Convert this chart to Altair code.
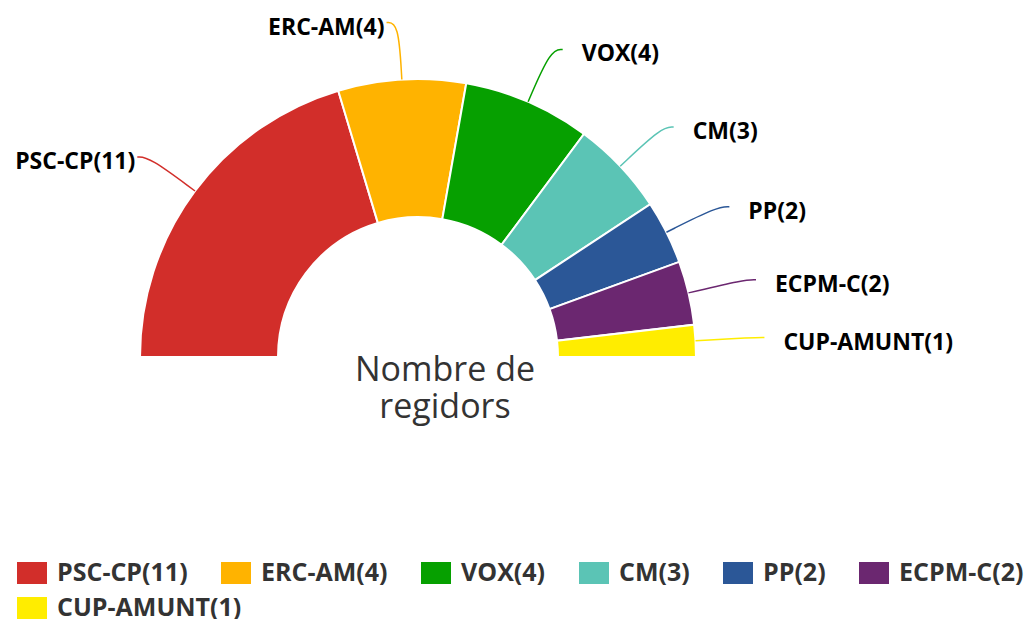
import math
import altair as alt
import pandas as pd

# ---- data ----
parties = ["PSC-CP", "ERC-AM", "VOX", "CM", "PP", "ECPM-C", "CUP-AMUNT"]
seats = [11, 4, 4, 3, 2, 2, 1]
colors = ["#d22e2a", "#ffb300", "#06a000", "#5bc4b5", "#2b5797", "#6b2770", "#ffed00"]
labels = [f"{p}({s})" for p, s in zip(parties, seats)]
center_title = ["Nombre de\nregidors"]

df = pd.DataFrame({"label": labels, "seats": seats, "idx": list(range(len(parties)))})
title_df = pd.DataFrame({"title": center_title})

# ---- layout constants ----
CX, CY = 410, 349
R_OUT, R_IN = 278, 140
R_LAB = 335
FONT = "Open Sans"
ROW1, ROW2 = labels[:6], labels[6:]

legend_style = dict(
    orient="none", direction="horizontal", title=None,
    symbolType="M-1,-0.733L1,-0.733L1,0.733L-1,0.733Z",
    symbolSize=900, symbolStrokeWidth=0, symbolOpacity=1,
    labelFont=FONT, labelFontWeight="bold", labelFontSize=25,
    labelColor="#333333", labelOffset=10, labelLimit=400,
    columnPadding=33, padding=0,
)

color_scale = alt.Scale(domain=labels, range=colors)

base = alt.Chart(df)

arcs = base.mark_arc(
    radius=R_OUT, radius2=R_IN, stroke="white", strokeWidth=2, x=CX, y=CY
).encode(
    theta=alt.Theta("seats:Q", stack=True,
                    scale=alt.Scale(range=[-math.pi / 2, math.pi / 2])),
    order=alt.Order("idx:Q"),
    color=alt.Color(
        "label:N", scale=color_scale,
        legend=alt.Legend(values=ROW1, legendX=9, legendY=550, **legend_style),
    ),
)

# second legend row (wrapped entry)
row2 = base.transform_filter(
    alt.FieldOneOfPredicate(field="label", oneOf=ROW2)
).mark_point(opacity=0, size=0, filled=True).encode(
    x=alt.value(0), y=alt.value(0),
    fill=alt.Fill(
        "label:N",
        scale=alt.Scale(domain=ROW2, range=colors[6:]),
        legend=alt.Legend(legendX=9, legendY=585, **legend_style),
    ),
)

geo = base.transform_joinaggregate(
    total="sum(seats)"
).transform_window(
    cum="sum(seats)", sort=[alt.SortField("idx")], frame=[None, 0]
).transform_calculate(
    t="PI*((datum.cum - datum.seats/2)/datum.total) - PI/2"
).transform_calculate(
    side="sin(datum.t) >= 0 ? 1 : -1"
)

conn = geo.transform_calculate(
    steps="[0, 1, 2]"
).transform_flatten(["steps"]).transform_calculate(
    r=f"datum.steps == 0 ? {R_OUT} : {R_LAB}"
).transform_calculate(
    px=f"{CX} + datum.r*sin(datum.t) + (datum.steps == 2 ? datum.side*12 : 0)",
    py=f"{CY} - datum.r*cos(datum.t)",
).mark_line(interpolate="basis", strokeWidth=1.5).encode(
    x=alt.X("px:Q", scale=None, axis=None),
    y=alt.Y("py:Q", scale=None, axis=None),
    color=alt.Color("label:N", scale=color_scale, legend=None),
    detail="label:N",
    order="steps:Q",
)

lab = geo.transform_calculate(
    lx=f"{CX} + {R_LAB}*sin(datum.t) + (datum.side > 0 ? 31 : -14)",
    ly=f"{CY} - {R_LAB}*cos(datum.t) + 12",
)
lab_enc = dict(
    x=alt.X("lx:Q", scale=None, axis=None),
    y=alt.Y("ly:Q", scale=None, axis=None),
    text="label:N",
)
text_right = lab.transform_filter("datum.side > 0").mark_text(
    align="left", baseline="alphabetic", font=FONT, fontWeight="bold",
    fontSize=23, color="#000000"
).encode(**lab_enc)
text_left = lab.transform_filter("datum.side < 0").mark_text(
    align="right", baseline="alphabetic", font=FONT, fontWeight="bold",
    fontSize=23, color="#000000"
).encode(**lab_enc)

title = alt.Chart(title_df).mark_text(
    align="center", baseline="alphabetic", font=FONT, fontSize=34,
    color="#333333", lineBreak="\n", lineHeight=37
).encode(
    x=alt.value(437), y=alt.value(373), text="title:N"
)

chart = alt.layer(arcs, row2, conn, text_right, text_left, title).properties(
    width=1016, height=611, padding=0,
    autosize=alt.AutoSizeParams(type="none"),
).configure_view(stroke=None)

chart.save("out.html", embed_options={"renderer": "svg", "actions": False})
